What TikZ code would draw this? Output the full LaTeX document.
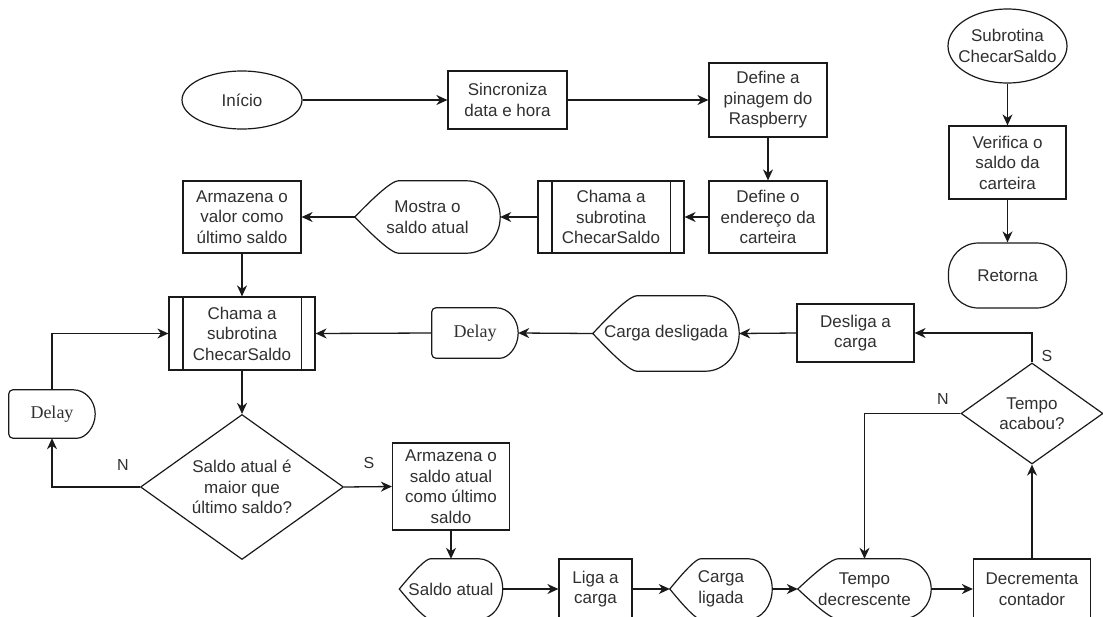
\documentclass[tikz,border=0pt]{standalone}
\usepackage{fontspec}
\setmainfont{Liberation Sans}
\newfontfamily\delayfont{Liberation Serif}
\usetikzlibrary{shapes.geometric, arrows.meta, calc}

\definecolor{ink}{HTML}{1A1A1A}
\definecolor{textgray}{HTML}{303030}

\tikzset{
  shapeline/.style={draw=ink, line width=1.2pt},
  boxtext/.style={font=\fontsize{17}{20.5}\selectfont, text=textgray, align=center},
  procbox/.style={rectangle, shapeline, boxtext, inner sep=0pt},
  termbox/.style={procbox, rounded corners=30pt},
  ghostbox/.style={rectangle, boxtext, inner sep=0pt},
  oval/.style={ellipse, shapeline, inner sep=0pt},
  decision/.style={diamond, shapeline, boxtext, inner sep=0pt, aspect=1.4},
  delaytext/.style={ghostbox, font=\delayfont\fontsize{18}{20}\selectfont},
  flow/.style={draw=ink, line width=1.3pt, -{Stealth[length=11pt,width=10pt,inset=3.5pt]}},
  branch/.style={font=\fontsize{16}{18}\selectfont, text=textgray, inner sep=0pt},
}

% display symbol: pointed left end, rounded right end
\newcommand\displayoutline[1]{%
  \draw[shapeline] let \p1=(#1.west), \p2=(#1.north east), \p3=(#1.south east),
    \n1={0.3*(\x2-\x1)}, \n2={0.23*(\x2-\x1)}, \n3={\y2-\y1} in
    (\x1,\y1) .. controls ({\x1+0.533*\n1},{\y1+0.667*\n3}) and ({\x1+0.867*\n1},\y2) .. ({\x1+\n1},\y2)
    -- ({\x2-\n2},\y2) .. controls ({\x2-0.448*\n2},\y2) and (\x2,{\y1+0.552*\n3}) .. (\x2,\y1)
    .. controls (\x2,{\y1-0.552*\n3}) and ({\x2-0.448*\n2},\y3) .. ({\x2-\n2},\y3)
    -- ({\x1+\n1},\y3) .. controls ({\x1+0.867*\n1},\y3) and ({\x1+0.533*\n1},{\y1-0.667*\n3}) .. cycle;}

% delay symbol: flat left side, half-round right side
\newcommand\delayoutline[1]{%
  \draw[shapeline] let \p1=(#1.west), \p2=(#1.north east), \p3=(#1.south east),
    \n2={22}, \n3={\y2-\y1} in
    [rounded corners=4pt] ({\x2-\n2},\y2) -- (\x1,\y2) -- (\x1,\y3) -- ({\x2-\n2},\y3)
    [sharp corners] .. controls ({\x2-0.448*\n2},\y3) and (\x2,{\y1-0.552*\n3}) .. (\x2,\y1)
    .. controls (\x2,{\y1+0.552*\n3}) and ({\x2-0.448*\n2},\y2) .. cycle;}

% predefined process: inner vertical bars
\newcommand\subroutinebars[1]{%
  \draw[shapeline] ([xshift=14.5pt]#1.north west) -- ([xshift=14.5pt]#1.south west)
                   ([xshift=-14.5pt]#1.north east) -- ([xshift=-14.5pt]#1.south east);}

\begin{document}
\begin{tikzpicture}[x=1pt, y=-1pt]
\useasboundingbox (0,0) rectangle (1103,616);
\clip (0,0) rectangle (1103,616);
\fill[white] (0,0) rectangle (1103,616);

% ---- main program, top row
\node[oval, boxtext, minimum width=120pt, minimum height=58pt] (inicio) at (242,100) {Início};
\node[procbox, minimum width=119pt, minimum height=58pt] (sinc) at (507.5,100) {Sincroniza\\data e hora};
\node[procbox, minimum width=118pt, minimum height=74pt] (pinagem) at (768,100) {Define a\\pinagem do\\Raspberry};
\node[procbox, minimum width=118pt, minimum height=72pt] (endereco) at (768,217) {Define o\\endereço da\\carteira};
\node[procbox, minimum width=146pt, minimum height=72pt] (chama1) at (611,217) {Chama a\\subrotina\\ChecarSaldo};
\subroutinebars{chama1}
\node[ghostbox, minimum width=145pt, minimum height=72pt] (mostra) at (427.5,217) {Mostra o\\saldo atual};
\displayoutline{mostra}
\node[procbox, minimum width=118pt, minimum height=72pt] (armaz1) at (242,217) {Armazena o\\valor como\\último saldo};

% ---- loop
\node[procbox, minimum width=146pt, minimum height=73pt] (chama2) at (242,333.5) {Chama a\\subrotina\\ChecarSaldo};
\subroutinebars{chama2}
\node[delaytext, minimum width=86pt, minimum height=50pt] (delay2) at (475,333) {Delay};
\delayoutline{delay2}
\node[ghostbox, minimum width=146pt, minimum height=75pt] (cargades) at (666,333.5) {Carga desligada};
\displayoutline{cargades}
\node[procbox, minimum width=117pt, minimum height=58pt] (desliga) at (855.5,333) {Desliga a\\carga};

\node[delaytext, minimum width=86pt, minimum height=48pt] (delay1) at (52,414) {Delay};
\delayoutline{delay1}
\node[decision, minimum width=203pt, minimum height=145pt] (dec1) at (242,487) {Saldo atual é\\maior que\\último saldo?};
\node[procbox, minimum width=117pt, minimum height=87pt] (armaz2) at (451,486.5) {Armazena o\\saldo atual\\como último\\saldo};

% ---- bottom row
\node[ghostbox, minimum width=103pt, minimum height=60pt] (saldo) at (451,589) {Saldo atual};
\displayoutline{saldo}
\node[procbox, minimum width=73pt, minimum height=60pt] (liga) at (595.5,589) {Liga a\\carga};
\node[ghostbox, minimum width=102pt, minimum height=60pt] (cargalig) at (721,589) {Carga\\ligada};
\displayoutline{cargalig}
\node[ghostbox, minimum width=133pt, minimum height=60pt] (tempo) at (864.5,589) {Tempo\\decrescente};
\displayoutline{tempo}
\node[procbox, minimum width=117pt, minimum height=60pt] (decr) at (1032,589) {Decrementa\\contador};
\node[decision, minimum width=142pt, minimum height=101pt] (dec2) at (1032,413.5) {Tempo\\acabou?};

% ---- subroutine ChecarSaldo
\node[oval, minimum width=119pt, minimum height=74pt] (subr) at (1007.5,46) {};
\node[ghostbox] at (subr) {Subrotina\\ChecarSaldo};
\node[procbox, minimum width=117pt, minimum height=73pt] (verif) at (1007.5,162.5) {Verifica o\\saldo da\\carteira};
\node[termbox, minimum width=118pt, minimum height=65pt] (ret) at (1007.5,275.5) {Retorna};

% ---- connectors
\draw[flow] (inicio.east) -- (sinc.west);
\draw[flow] (sinc.east) -- (pinagem.west);
\draw[flow] (pinagem.south) -- (endereco.north);
\draw[flow] (endereco.west) -- (chama1.east);
\draw[flow] (chama1.west) -- (mostra.east);
\draw[flow] (mostra.west) -- (armaz1.east);
\draw[flow] (armaz1.south) -- (chama2.north);
\draw[flow] (chama2.south) -- (dec1.north);
\draw[flow] (dec1.east) -- (armaz2.west);
\draw[flow] (dec1.west) -| (delay1.south);
\draw[flow] (delay1.north) |- (chama2.west);
\draw[flow] (armaz2.south) -- (saldo.north);
\draw[flow] (saldo.east) -- (liga.west);
\draw[flow] (liga.east) -- (cargalig.west);
\draw[flow] (cargalig.east) -- (tempo.west);
\draw[flow] (tempo.east) -- (decr.west);
\draw[flow] (decr.north) -- (dec2.south);
\draw[flow] (dec2.north) |- (desliga.east);
\draw[flow] (dec2.west) -| (tempo.north);
\draw[flow] (desliga.west) -- (cargades.east);
\draw[flow] (cargades.west) -- (delay2.east);
\draw[flow] (delay2.west) -- (chama2.east);
\draw[flow] (subr.south) -- (verif.north);
\draw[flow] (verif.south) -- (ret.north);

% ---- branch labels
\node[branch] (s1) at (369,463) {S};
\node[branch] (n1) at (123,465) {N};
\node[branch] (s2) at (1047,356) {S};
\node[branch] (n2) at (943,399) {N};
\end{tikzpicture}
\end{document}
